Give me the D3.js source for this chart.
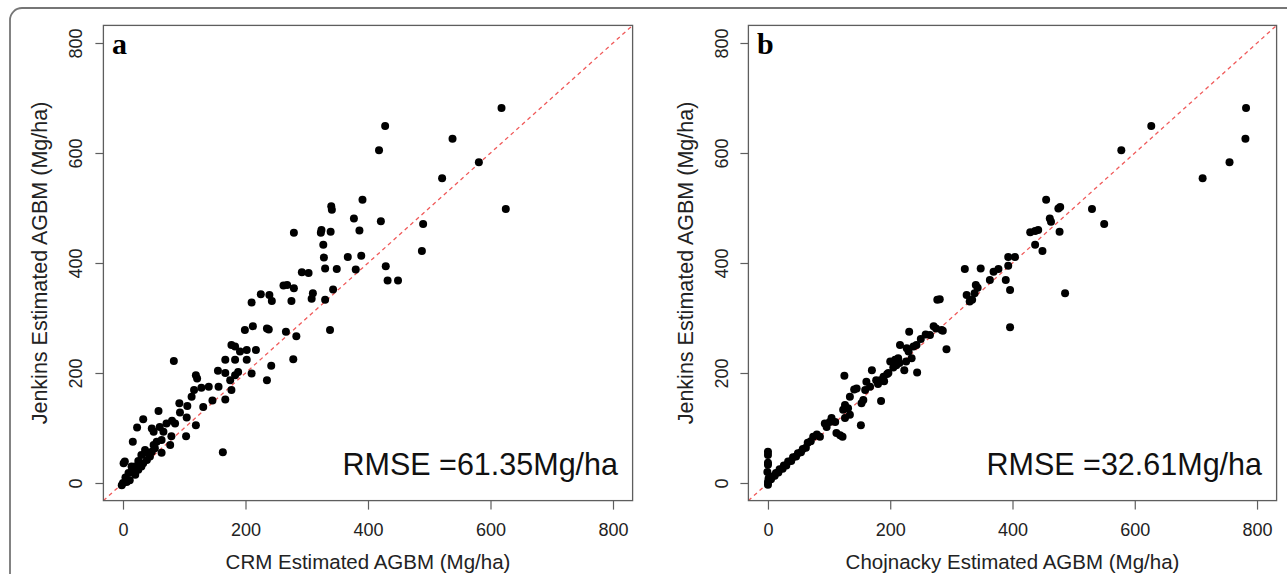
<!DOCTYPE html>
<html>
<head>
<meta charset="utf-8">
<script src="https://cdn.jsdelivr.net/npm/d3@7"></script>
<style>
  html, body { margin: 0; padding: 0; background: #fff; }
  svg { display: block; }
</style>
</head>
<body>
<svg id="chart" width="1287" height="574"></svg>
<script>
// ---------------- DATA ----------------
const tickValues = [0, 200, 400, 600, 800];
const tickLabels = ["0", "200", "400", "600", "800"];
const panelLetters = ["a", "b"];
const xTitles = ["CRM Estimated AGBM (Mg/ha)", "Chojnacky Estimated AGBM (Mg/ha)"];
const yTitle = "Jenkins Estimated AGBM (Mg/ha)";
const rmseLabels = ["RMSE =61.35Mg/ha", "RMSE =32.61Mg/ha"];

// Panel a: CRM (x) vs Jenkins (y), Mg/ha
const pointsA = [
[618,682],[428,649],[538,626],[418,605],[581,583],[521,554],[625,498],[391,515],[340,503],[341,497],
[377,481],[421,476],[490,471],[324,460],[323,455],[339,457],[386,459],[279,455],[327,433],[488,422],
[328,410],[367,411],[389,413],[330,390],[349,389],[380,388],[429,394],[432,368],[449,368],[292,383],
[303,382],[343,352],[310,345],[308,335],[330,333],[338,278],[283,267],[262,359],[268,360],[279,354],
[225,343],[239,342],[243,331],[210,328],[275,331],[199,278],[212,285],[235,281],[238,279],[266,275],
[177,251],[183,248],[202,242],[217,242],[191,239],[167,224],[183,224],[202,224],[83,222],[188,202],
[210,199],[155,204],[167,200],[242,213],[278,225],[235,187],[119,196],[121,190],[175,187],[183,196],
[156,175],[167,152],[146,150],[177,169],[116,169],[128,173],[140,175],[112,157],[131,138],[92,145],
[105,140],[58,131],[93,128],[104,119],[119,105],[103,85],[85,108],[80,113],[71,108],[33,116],
[23,101],[47,99],[50,93],[60,102],[66,93],[79,85],[63,78],[55,75],[50,69],[77,69],
[63,55],[16,75],[163,56],[-2,-4],[6,2],[11,5],[20,15],[25,24],[30,30],[33,36],
[39,42],[44,48],[36,60],[30,51],[47,57],[52,63],[3,39],[1,36],[14,30],[9,18],
[20,30],[4,10],[15,20],[25,40],[40,55],[0,0]
];

// Panel b: Chojnacky (x) vs Jenkins (y), Mg/ha
const pointsB = [
[782,682],[781,626],[755,583],[711,554],[627,649],[578,605],[530,498],[550,471],[455,515],[475,499],
[478,502],[461,481],[463,475],[477,457],[429,456],[437,458],[442,460],[437,433],[449,422],[393,411],
[404,411],[393,395],[322,389],[348,390],[369,384],[377,389],[363,369],[389,369],[396,351],[486,345],
[396,283],[340,360],[343,355],[338,345],[325,342],[330,330],[334,333],[277,333],[281,334],[231,275],
[271,285],[275,281],[284,278],[286,277],[265,269],[292,243],[216,251],[227,245],[238,248],[243,251],
[230,239],[235,227],[226,221],[223,205],[244,201],[200,221],[208,224],[213,227],[197,200],[189,193],
[184,187],[177,187],[170,205],[161,184],[167,175],[159,169],[185,149],[141,170],[145,172],[134,157],
[125,195],[153,145],[156,151],[126,142],[131,136],[123,133],[134,124],[126,118],[152,105],[104,118],
[110,111],[101,111],[93,108],[96,102],[118,87],[122,84],[112,91],[80,88],[85,84],[74,84],
[70,76],[65,73],[62,64],[57,62],[54,56],[49,54],[46,48],[41,47],[38,40],[33,39],
[30,32],[26,32],[24,26],[19,25],[17,19],[13,18],[11,13],[7,12],[5,7],[2,6],
[0,57],[0,51],[0,37],[0,33],[-1,20],[1,8],[0,2],[0,-3],[180,180],[190,185],
[205,210],[215,218],[250,262],[258,270],[210,214],[195,198]
];

const axisDomain = [-32, 832];

// ---------------- DRAW ----------------
const svg = d3.select("#chart");
const FONT = "Arial, 'Liberation Sans', Helvetica, sans-serif";

// outer rounded frame
svg.append("rect")
  .attr("x", 10).attr("y", 8)
  .attr("width", 1300).attr("height", 600)
  .attr("rx", 12).attr("ry", 12)
  .attr("fill", "none").attr("stroke", "#767676").attr("stroke-width", 1.8);

const panels = [
  { pts: pointsA, x0: 103.4, x1: 632.6, ytickX: 82, ytitleX: 47 },
  { pts: pointsB, x0: 748.4, x1: 1276.6, ytickX: 728, ytitleX: 693 }
];
const yTop = 25.4, yBot = 500.6;

panels.forEach((p, i) => {
  const x = d3.scaleLinear().domain(axisDomain).range([p.x0, p.x1]);
  const y = d3.scaleLinear().domain(axisDomain).range([yBot, yTop]);
  const g = svg.append("g");

  // clip
  const clipId = "clip" + i;
  g.append("clipPath").attr("id", clipId)
    .append("rect").attr("x", p.x0).attr("y", yTop)
    .attr("width", p.x1 - p.x0).attr("height", yBot - yTop);

  // 1:1 dashed line
  g.append("line")
    .attr("clip-path", `url(#${clipId})`)
    .attr("x1", x(axisDomain[0])).attr("y1", y(axisDomain[0]))
    .attr("x2", x(axisDomain[1])).attr("y2", y(axisDomain[1]))
    .attr("stroke", "#f05a5a").attr("stroke-width", 1.3)
    .attr("stroke-dasharray", "4,3.5");

  // points
  g.append("g").selectAll("circle").data(p.pts).join("circle")
    .attr("cx", d => x(d[0])).attr("cy", d => y(d[1]))
    .attr("r", 4).attr("fill", "#000");

  // box
  g.append("rect")
    .attr("x", p.x0).attr("y", yTop)
    .attr("width", p.x1 - p.x0).attr("height", yBot - yTop)
    .attr("fill", "none").attr("stroke", "#5e5e5e").attr("stroke-width", 1.3);

  // x axis
  const xa = g.append("g").attr("transform", `translate(0,${yBot})`)
    .call(d3.axisBottom(x).tickValues(tickValues).tickFormat((d, k) => tickLabels[k]).tickSize(9));
  xa.select(".domain").remove();
  xa.selectAll(".tick line").attr("stroke", "#5e5e5e").attr("stroke-width", 1.2);
  xa.selectAll(".tick text")
    .attr("y", 536 - yBot).attr("dy", 0)
    .attr("font-family", FONT).attr("font-size", 18).attr("fill", "#222");

  // y axis
  const ya = g.append("g").attr("transform", `translate(${p.x0},0)`)
    .call(d3.axisLeft(y).tickValues(tickValues).tickFormat((d, k) => tickLabels[k]).tickSize(8));
  ya.select(".domain").remove();
  ya.selectAll(".tick line").attr("stroke", "#5e5e5e").attr("stroke-width", 1.2);
  ya.selectAll(".tick text")
    .attr("transform", "rotate(-90)")
    .attr("x", 0).attr("y", -(p.x0 - p.ytickX)).attr("dy", 0)
    .attr("text-anchor", "middle")
    .attr("font-family", FONT).attr("font-size", 18).attr("fill", "#222");

  // axis titles
  g.append("text")
    .attr("x", (p.x0 + p.x1) / 2).attr("y", 569)
    .attr("text-anchor", "middle")
    .attr("font-family", FONT).attr("font-size", 20.5).attr("fill", "#222")
    .text(xTitles[i]);
  g.append("text")
    .attr("transform", `translate(${p.ytitleX},${(yTop + yBot) / 2}) rotate(-90)`)
    .attr("text-anchor", "middle")
    .attr("font-family", FONT).attr("font-size", 21.5).attr("fill", "#222")
    .text(yTitle);

  // panel letter
  g.append("text")
    .attr("x", p.x0 + 8.5).attr("y", 54)
    .attr("font-family", "'Liberation Serif', 'Times New Roman', serif")
    .attr("font-weight", "bold").attr("font-size", 30).attr("fill", "#000")
    .text(panelLetters[i]);

  // RMSE
  g.append("text")
    .attr("x", p.x1 - 14.6).attr("y", 475)
    .attr("text-anchor", "end")
    .attr("font-family", FONT).attr("font-size", 30.5).attr("fill", "#111")
    .text(rmseLabels[i]);
});
</script>
</body>
</html>
